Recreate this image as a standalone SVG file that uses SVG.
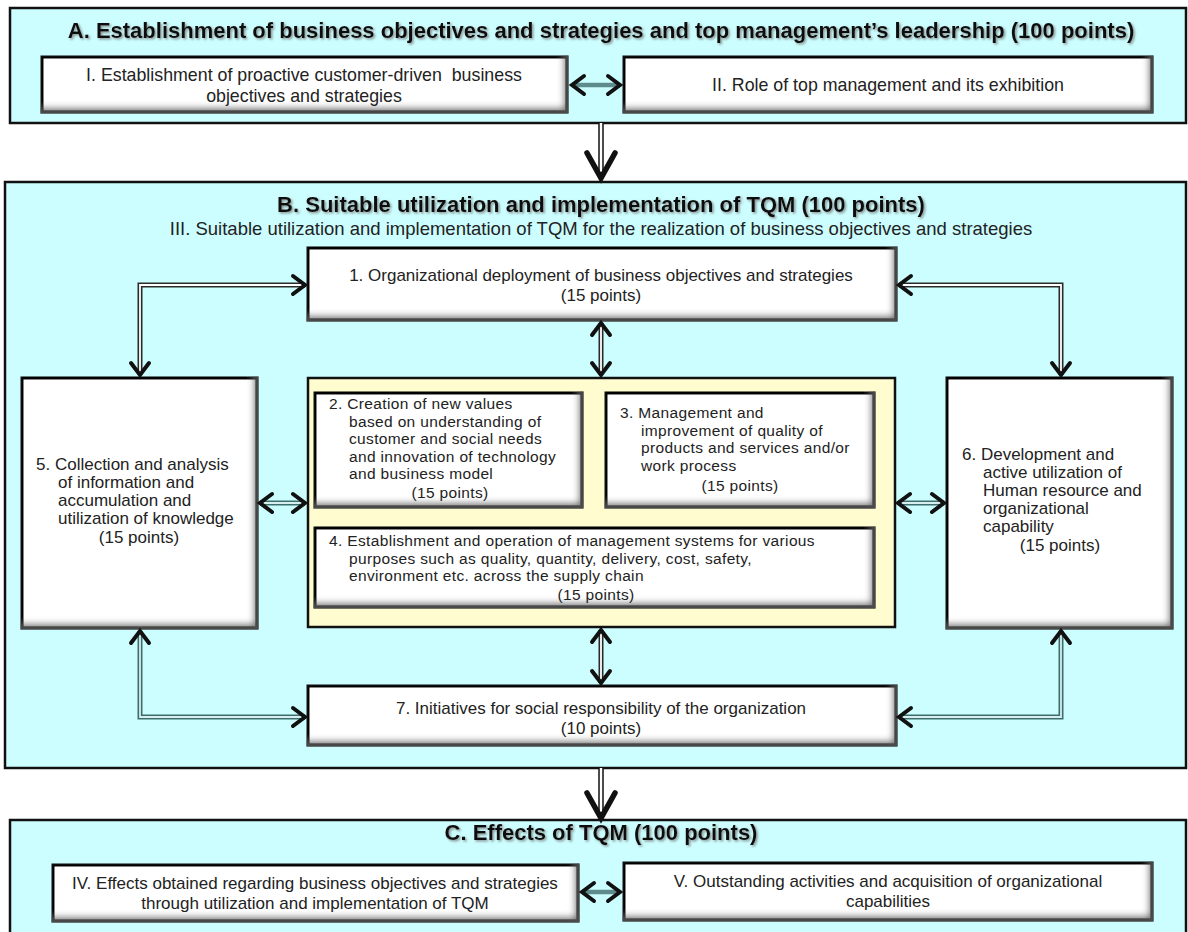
<svg xmlns="http://www.w3.org/2000/svg" width="1188" height="932" viewBox="0 0 1188 932">
<style>
.sec{fill:#ccfeff;stroke:#111;stroke-width:2.5}
.yel{fill:#fffdd0;stroke:#111;stroke-width:2.5}
.bx{fill:#fff;stroke:#111;stroke-width:3;filter:url(#inset)}
text{font-family:"Liberation Sans",Arial,sans-serif;fill:#222;font-size:17px}
.c{text-anchor:middle}
.lg{font-size:17.8px}
.sm{font-size:15.5px;letter-spacing:0.35px}
.t{font-weight:bold;fill:#111;font-size:22px;filter:url(#ds)}
.sub{font-size:18.5px}
.o{fill:none;stroke:#2a2a2a;stroke-width:5}
.i{fill:none;stroke:#fff;stroke-width:1.8}
.ot{fill:none;stroke:#3d6e6e;stroke-width:5}
.it{fill:none;stroke:#d8efef;stroke-width:1.8}
.solid{fill:none;stroke:#5e8c8c;stroke-width:4.5}
.m{fill:none;stroke:none;marker-start:url(#ah);marker-end:url(#ah)}
.bo{fill:none;stroke:#111;stroke-width:5.5}
.bi{fill:none;stroke:#fff;stroke-width:2.5}
.bm{fill:none;stroke:none;marker-end:url(#big)}
</style>
<defs>
<filter id="inset">
<feOffset in="SourceAlpha" dx="-5" dy="-6" result="o"/>
<feGaussianBlur in="o" stdDeviation="3" result="b"/>
<feComposite in="SourceAlpha" in2="b" operator="out" result="e"/>
<feFlood flood-color="#505050" flood-opacity="0.9"/>
<feComposite in2="e" operator="in" result="s"/>
<feMerge><feMergeNode in="SourceGraphic"/><feMergeNode in="s"/></feMerge>
</filter>
<filter id="ds" x="-5%" y="-30%" width="110%" height="160%">
<feDropShadow dx="1.5" dy="1.5" stdDeviation="1" flood-color="#777" flood-opacity="0.8"/>
</filter>
<marker id="ah" viewBox="-14 -10 18 20" refX="0" refY="0" markerWidth="18" markerHeight="20" markerUnits="userSpaceOnUse" orient="auto-start-reverse" overflow="visible">
<path d="M-12,-9 L0,0 L-12,9" fill="none" stroke="#111" stroke-width="4" stroke-linecap="round"/>
</marker>
<marker id="big" viewBox="-30 -18 34 36" refX="0" refY="0" markerWidth="34" markerHeight="36" markerUnits="userSpaceOnUse" orient="auto" overflow="visible">
<path d="M-25,-14 L0,0 L-25,14" fill="none" stroke="#111" stroke-width="5.5" stroke-linecap="round"/>
</marker>
</defs>

<g id="sectionA">
<rect class="sec" x="10" y="8" width="1176" height="115"/>
<text class="t c" x="601" y="38">A. Establishment of business objectives and strategies and top management’s leadership (100 points)</text>
</g>
<g id="nodeI">
<rect class="bx" x="42" y="57" width="525" height="55"/>
<text class="c lg" x="304" y="81" xml:space="preserve">I. Establishment of proactive customer-driven  business</text>
<text class="c lg" x="304" y="102">objectives and strategies</text>
</g>
<g id="nodeII">
<rect class="bx" x="624" y="57" width="528" height="55"/>
<text class="c lg" x="888" y="91">II. Role of top management and its exhibition</text>
</g>

<g id="sectionB">
<rect class="sec" x="5" y="182" width="1181" height="586"/>
<text class="t c" x="601" y="212">B. Suitable utilization and implementation of TQM (100 points)</text>
<text class="sub c" x="601" y="235">III. Suitable utilization and implementation of TQM for the realization of business objectives and strategies</text>
</g>
<g id="node1">
<rect class="bx" x="308" y="248" width="588" height="72"/>
<text class="c" x="601" y="281">1. Organizational deployment of business objectives and strategies</text>
<text class="c" x="601" y="301">(15 points)</text>
</g>
<g id="core">
<rect class="yel" x="308" y="378" width="587" height="249"/>
</g>
<g id="node2">
<rect class="bx" x="315" y="393" width="267" height="114"/>
<text class="sm" x="329" y="409">2. Creation of new values</text>
<text class="sm" x="349" y="426.5">based on understanding of</text>
<text class="sm" x="349" y="444">customer and social needs</text>
<text class="sm" x="349" y="461.5">and innovation of technology</text>
<text class="sm" x="349" y="479">and business model</text>
<text class="sm c" x="450" y="498">(15 points)</text>
</g>
<g id="node3">
<rect class="bx" x="606" y="393" width="268" height="114"/>
<text class="sm" x="620" y="418">3. Management and</text>
<text class="sm" x="641" y="435.5">improvement of quality of</text>
<text class="sm" x="641" y="453">products and services and/or</text>
<text class="sm" x="641" y="470.5">work process</text>
<text class="sm c" x="740" y="491">(15 points)</text>
</g>
<g id="node4">
<rect class="bx" x="315" y="528" width="559" height="79"/>
<text class="sm" x="329" y="546">4. Establishment and operation of management systems for various</text>
<text class="sm" x="349" y="563.5">purposes such as quality, quantity, delivery, cost, safety,</text>
<text class="sm" x="349" y="581">environment etc. across the supply chain</text>
<text class="sm c" x="596" y="600">(15 points)</text>
</g>
<g id="node5">
<rect class="bx" x="22" y="378" width="235" height="250"/>
<text x="36" y="470">5. Collection and analysis</text>
<text x="58" y="488">of information and</text>
<text x="58" y="506">accumulation and</text>
<text x="58" y="524">utilization of knowledge</text>
<text class="c" x="139" y="543">(15 points)</text>
</g>
<g id="node6">
<rect class="bx" x="947" y="378" width="225" height="250"/>
<text x="962" y="460">6. Development and</text>
<text x="983" y="478">active utilization of</text>
<text x="983" y="496">Human resource and</text>
<text x="983" y="514">organizational</text>
<text x="983" y="532">capability</text>
<text class="c" x="1060" y="551">(15 points)</text>
</g>
<g id="node7">
<rect class="bx" x="308" y="686" width="588" height="59"/>
<text class="c" x="601" y="714">7. Initiatives for social responsibility of the organization</text>
<text class="c" x="601" y="734">(10 points)</text>
</g>

<g id="sectionC">
<rect class="sec" x="10" y="820" width="1176" height="130"/>
<text class="t c" x="601" y="840">C. Effects of TQM (100 points)</text>
</g>
<g id="nodeIV">
<rect class="bx" x="53" y="865" width="525" height="56"/>
<text class="c" x="315" y="889">IV. Effects obtained regarding business objectives and strategies</text>
<text class="c" x="315" y="909">through utilization and implementation of TQM</text>
</g>
<g id="nodeV">
<rect class="bx" x="624" y="863" width="528" height="57"/>
<text class="c" x="888" y="887">V. Outstanding activities and acquisition of organizational</text>
<text class="c" x="888" y="907">capabilities</text>
</g>

<g id="connectors">
<path class="solid" d="M572,85 H620"/>
<path class="m" d="M572,85 H620"/>
<path class="solid" d="M582,892 H620"/>
<path class="m" d="M582,892 H620"/>

<path class="bo" d="M601,123 V178"/>
<path class="bi" d="M601,123 V172"/>
<path class="bm" d="M601,123 V178"/>
<path class="bo" d="M601,768 V818"/>
<path class="bi" d="M601,768 V812"/>
<path class="bm" d="M601,768 V818"/>

<path class="o" d="M140,375 V285 H305"/>
<path class="i" d="M140,372 V285 H302"/>
<path class="m" d="M140,375 V285 H305"/>
<path class="o" d="M1061,375 V285 H899"/>
<path class="i" d="M1061,372 V285 H902"/>
<path class="m" d="M1061,375 V285 H899"/>
<path class="o" d="M601,323 V375"/>
<path class="i" d="M601,326 V372"/>
<path class="m" d="M601,323 V375"/>
<path class="ot" d="M260,503 H305"/>
<path class="it" d="M263,503 H302"/>
<path class="m" d="M260,503 H305"/>
<path class="ot" d="M898,503 H944"/>
<path class="it" d="M901,503 H941"/>
<path class="m" d="M898,503 H944"/>
<path class="o" d="M601,630 V683"/>
<path class="i" d="M601,633 V680"/>
<path class="m" d="M601,630 V683"/>
<path class="ot" d="M140,631 V717 H305"/>
<path class="it" d="M140,634 V717 H302"/>
<path class="m" d="M140,631 V717 H305"/>
<path class="ot" d="M1061,631 V717 H899"/>
<path class="it" d="M1061,634 V717 H902"/>
<path class="m" d="M1061,631 V717 H899"/>
</g>
</svg>
